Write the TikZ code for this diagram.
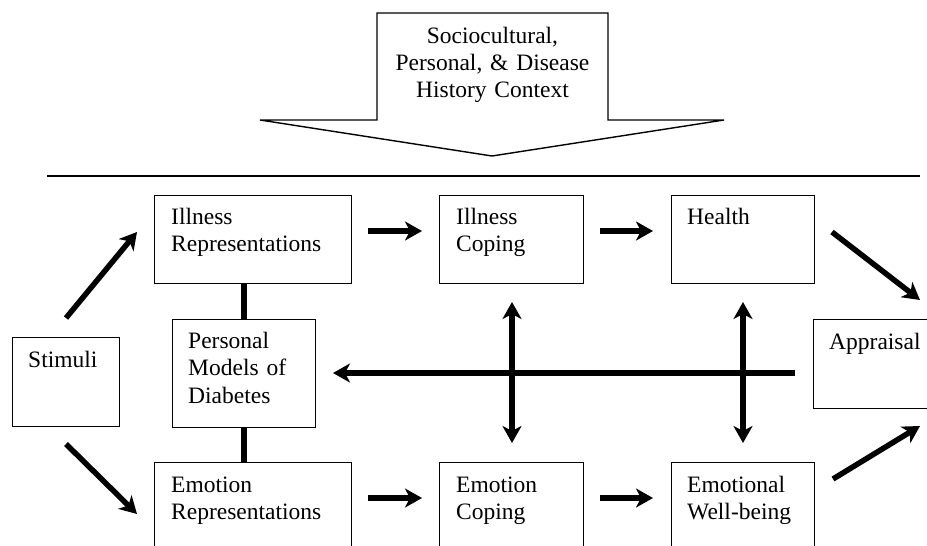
\documentclass[tikz,border=0pt]{standalone}
\usepackage{fontspec}
\setmainfont{Liberation Serif}
\usetikzlibrary{arrows.meta,calc}
\begin{document}
\begin{tikzpicture}[x=1pt,y=-1pt,
  box/.style={draw, line width=1.4pt, anchor=north west, inner sep=0pt},
  txt/.style={anchor=base west, inner sep=0pt, align=left, text width=200pt,
    font=\fontsize{23.5}{27.5}\selectfont},
  thick arrow/.style={line width=5.5pt, -{Stealth[length=17pt,width=19pt,inset=5pt]}},
  dbl arrow/.style={line width=5.5pt, {Stealth[length=17pt,width=19pt,inset=5pt]}-{Stealth[length=17pt,width=19pt,inset=5pt]}},
  link/.style={line width=6pt}]
\useasboundingbox (0,0) rectangle (927,546);
\clip (0,0) rectangle (927,546);
\fill[white] (0,0) rectangle (927,546);
% context block arrow
\draw[line width=1.4pt, line join=miter] (377,13) -- (608,13) -- (608,120) -- (724,120) -- (492,156) -- (260,120) -- (377,120) -- cycle;
\node[align=center, text width=300pt, inner sep=0pt, anchor=base, font=\fontsize{23.5}{27}\selectfont] (ctx) at (492.5,43) {Sociocultural,\\Personal, \& Disease\\History Context};
\coordinate (rl) at (47,176);
\coordinate (rr) at (920,176);
\draw[line width=1.4pt] (rl) -- (rr);
% boxes
\node[box, minimum width=107pt, minimum height=89pt] (st) at (12,337) {};
\node[box, minimum width=197pt, minimum height=88pt] (ir) at (154,195) {};
\node[box, minimum width=143pt, minimum height=108pt] (pm) at (172,319) {};
\node[box, minimum width=197pt, minimum height=110pt] (er) at (154,462) {};
\node[box, minimum width=144pt, minimum height=88pt] (ic) at (439,195) {};
\node[box, minimum width=143pt, minimum height=88pt] (he) at (671,195) {};
\node[box, minimum width=144pt, minimum height=110pt] (ec) at (439,462) {};
\node[box, minimum width=143pt, minimum height=110pt] (ew) at (671,462) {};
\node[box, minimum width=140pt, minimum height=89pt] (ap) at (813,319) {};
% texts
\node[txt] (stt) at ($(st.north west)+(16,30)$) {Stimuli};
\node[txt] (irt) at ($(ir.north west)+(17,29)$) {Illness\\Representations};
\node[txt] (pmt) at ($(pm.north west)+(16,29)$) {Personal\\Models of\\Diabetes};
\node[txt] (ert) at ($(er.north west)+(17,30)$) {Emotion\\Representations};
\node[txt] (ict) at ($(ic.north west)+(17,29)$) {Illness\\Coping};
\node[txt] (het) at ($(he.north west)+(16,29)$) {Health};
\node[txt] (ect) at ($(ec.north west)+(17,30)$) {Emotion\\Coping};
\node[txt] (ewt) at ($(ew.north west)+(16,30)$) {Emotional\\Well-being};
\node[txt] (apt) at ($(ap.north west)+(16,30)$) {Appraisal};
% links
\draw[link] (pm.north) -- (pm.north |- ir.south);
\draw[link] (pm.south) -- (pm.south |- er.north);
% arrow end points
\coordinate (s1) at (66,318);  \coordinate (e1) at (137,232);
\coordinate (s2) at (66,444);  \coordinate (e2) at (137,514);
\coordinate (s3) at (368,231); \coordinate (e3) at (422,231);
\coordinate (s4) at (600,231); \coordinate (e4) at (653,231);
\coordinate (s5) at (368,498); \coordinate (e5) at (422,498);
\coordinate (s6) at (600,498); \coordinate (e6) at (653,498);
\coordinate (s7) at (832,232); \coordinate (e7) at (920,300);
\coordinate (s8) at (833,479); \coordinate (e8) at (920,426);
\coordinate (s9) at (795,373); \coordinate (e9) at (333,373);
\coordinate (v1a) at (512,302); \coordinate (v1b) at (512,443);
\coordinate (v2a) at (743,302); \coordinate (v2b) at (743,443);
\draw[thick arrow] (s9) -- (e9);
\draw[dbl arrow] (v1a) -- (v1b);
\draw[dbl arrow] (v2a) -- (v2b);
\draw[thick arrow] (s1) -- (e1);
\draw[thick arrow] (s2) -- (e2);
\draw[thick arrow] (s3) -- (e3);
\draw[thick arrow] (s4) -- (e4);
\draw[thick arrow] (s5) -- (e5);
\draw[thick arrow] (s6) -- (e6);
\draw[thick arrow] (s7) -- (e7);
\draw[thick arrow] (s8) -- (e8);
\end{tikzpicture}
\end{document}
